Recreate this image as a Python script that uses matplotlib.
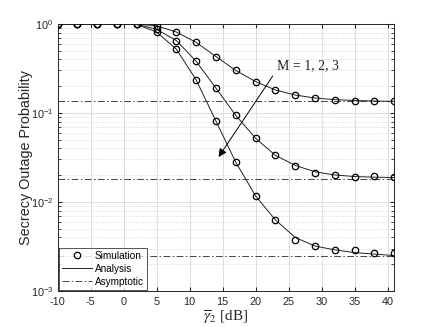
import numpy as np
import matplotlib
matplotlib.use("Agg")
import matplotlib.pyplot as plt
from matplotlib.ticker import LogLocator, NullFormatter
from matplotlib.lines import Line2D

# ---------------- data ----------------
snr_db = [-10, -7, -4, -1, 2, 5, 8, 11, 14, 17, 20, 23, 26, 29, 32, 35, 38, 41]

sim_m1 = [1.0, 1.0, 1.0, 1.0, 0.995, 0.95, 0.81, 0.62, 0.43, 0.30, 0.225, 0.181, 0.159, 0.146, 0.141, 0.136, 0.137, 0.135]
sim_m2 = [1.0, 1.0, 1.0, 1.0, 0.99, 0.87, 0.65, 0.38, 0.19, 0.094, 0.052, 0.0334, 0.0254, 0.0214, 0.0200, 0.0190, 0.0195, 0.0190]
sim_m3 = [1.0, 1.0, 1.0, 1.0, 0.985, 0.81, 0.52, 0.235, 0.081, 0.028, 0.0117, 0.0063, 0.0037, 0.0032, 0.0029, 0.0029, 0.0027, 0.0027]

ana_m1 = [1.0, 1.0, 1.0, 1.0, 0.995, 0.95, 0.81, 0.62, 0.43, 0.30, 0.225, 0.181, 0.159, 0.147, 0.141, 0.138, 0.136, 0.135]
ana_m2 = [1.0, 1.0, 1.0, 1.0, 0.99, 0.87, 0.65, 0.38, 0.19, 0.094, 0.052, 0.0334, 0.0258, 0.0218, 0.0201, 0.0193, 0.0190, 0.0188]
ana_m3 = [1.0, 1.0, 1.0, 1.0, 0.985, 0.81, 0.52, 0.235, 0.081, 0.028, 0.0117, 0.0063, 0.0040, 0.0032, 0.0029, 0.0027, 0.0026, 0.0025]

asym = [0.135, 0.018, 0.00246]

xticks = [-10, -5, 0, 5, 10, 15, 20, 25, 30, 35, 40]
ytick_vals = [1e-3, 1e-2, 1e-1, 1e0]
ytick_labels = [r"$10^{-3}$", r"$10^{-2}$", r"$10^{-1}$", r"$10^{0}$"]

# ---------------- figure ----------------
plt.rcParams['font.family'] = ['Liberation Sans', 'DejaVu Sans']
plt.rcParams['mathtext.fontset'] = 'custom'
plt.rcParams['mathtext.rm'] = 'Liberation Sans'
plt.rcParams['mathtext.it'] = 'Liberation Sans:italic'
plt.rcParams['mathtext.bf'] = 'Liberation Sans:bold'

TXT = '#262626'
DASHDOT = (0, (7, 2.5, 1.5, 2.5))

fig = plt.figure(figsize=(4.36, 3.27), dpi=100)
ax = fig.add_axes([0.132, 0.110, 0.772, 0.817])

for sim, ana in [(sim_m1, ana_m1), (sim_m2, ana_m2), (sim_m3, ana_m3)]:
    ax.plot(snr_db, ana, color='#222222', lw=0.7, zorder=3)
    ax.plot(snr_db, sim, linestyle='none', marker='o', ms=4.6, mfc='none',
            mec='black', mew=0.9, zorder=4)

for a in asym:
    ax.axhline(a, color='#444444', lw=0.7, linestyle=DASHDOT, zorder=2)

ax.set_yscale('log')
ax.set_xlim(-10, 41)
ax.set_ylim(1e-3, 1)
ax.set_xticks(xticks)
ax.set_xticklabels([str(t) for t in xticks])
ax.set_yticks(ytick_vals)
ax.set_yticklabels(ytick_labels)
ax.yaxis.set_minor_locator(LogLocator(base=10, subs=np.arange(2, 10)))
ax.yaxis.set_minor_formatter(NullFormatter())

ax.grid(True, which='major', color='#dddddd', lw=0.7, linestyle='-', zorder=0)
ax.grid(True, which='minor', axis='y', color='#cccccc', lw=0.6, linestyle=(0, (1, 2)), zorder=0)
ax.set_axisbelow(True)

ax.tick_params(axis='both', which='both', direction='in', top=True, right=True,
               labelsize=7.8, colors=TXT, length=3)
ax.tick_params(axis='x', pad=4.5)
ax.tick_params(axis='y', pad=3)
ax.tick_params(which='minor', length=2)
for s in ax.spines.values():
    s.set_color(TXT)
    s.set_linewidth(0.7)

ax.set_ylabel('Secrecy Outage Probability', fontsize=10.4, color=TXT)
ax.yaxis.set_label_coords(-0.073, 0.5)
ax.set_xlabel(r'$\overline{\gamma}_2$ [dB]', fontsize=11, family='Liberation Serif',
              math_fontfamily='stix', color=TXT, labelpad=1)

ax.annotate('', xy=(14.4, 0.032), xytext=(22.6, 0.26),
            arrowprops=dict(arrowstyle='-|>', color='black', lw=0.7,
                            mutation_scale=12, shrinkA=0, shrinkB=0))
ax.text(23.3, 0.337, 'M = 1, 2, 3', family='Liberation Serif', fontsize=10,
        va='center', ha='left', color='#222222')

handles = [
    Line2D([], [], linestyle='none', marker='o', ms=4.6, mfc='none', mec='black', mew=0.9),
    Line2D([], [], color='#222222', lw=0.7),
    Line2D([], [], color='#444444', lw=0.7, linestyle=DASHDOT),
]
leg = ax.legend(handles, ['Simulation', 'Analysis', 'Asymptotic'], loc='lower left',
                fontsize=7.2, frameon=True, fancybox=False, edgecolor=TXT,
                borderpad=0.3, labelspacing=0.3, handlelength=3.0, handletextpad=0.25,
                borderaxespad=0.15)
leg.get_frame().set_linewidth(0.7)

fig.savefig('out.png', dpi=100)
